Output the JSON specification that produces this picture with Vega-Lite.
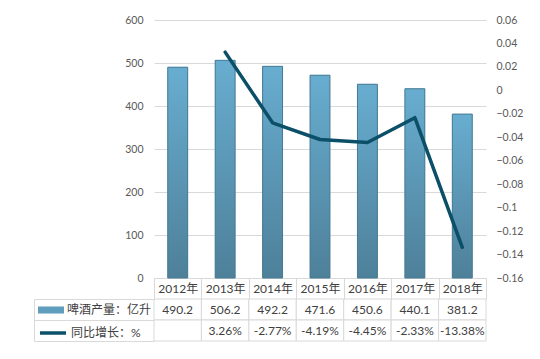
{
  "$schema": "https://vega.github.io/schema/vega-lite/v6.json",
  "background": "white",
  "padding": {"left": 33, "top": 15, "right": 12, "bottom": 10},
  "bounds": "flush",
  "spacing": 21,
  "config": {
    "font": "Lato, Noto Sans CJK SC, sans-serif",
    "view": {"stroke": null},
    "axis": {"labelFont": "Lato, Noto Sans CJK SC, sans-serif"}
  },
  "datasets": {
    "d": [
      {"year": "2012年", "beer": 490.2, "growth": null, "growthLabel": ""},
      {"year": "2013年", "beer": 506.2, "growth": 0.0326, "growthLabel": "3.26%"},
      {"year": "2014年", "beer": 492.2, "growth": -0.0277, "growthLabel": "-2.77%"},
      {"year": "2015年", "beer": 471.6, "growth": -0.0419, "growthLabel": "-4.19%"},
      {"year": "2016年", "beer": 450.6, "growth": -0.0445, "growthLabel": "-4.45%"},
      {"year": "2017年", "beer": 440.1, "growth": -0.0233, "growthLabel": "-2.33%"},
      {"year": "2018年", "beer": 381.2, "growth": -0.1338, "growthLabel": "-13.38%"}
    ]
  },
  "vconcat": [
    {
      "width": 332,
      "height": 258,
      "data": {"name": "d"},
      "encoding": {
        "x": {
          "field": "year", "type": "ordinal", "sort": null,
          "scale": {"paddingInner": 0, "paddingOuter": 0},
          "axis": {"title": null, "labels": false, "ticks": false, "domain": true, "domainColor": "#d9d9d9", "grid": false}
        }
      },
      "layer": [
        {
          "encoding": {
            "y": {
              "field": "beer", "type": "quantitative",
              "scale": {"domain": [0, 600], "nice": false},
              "axis": {"title": null, "orient": "left", "values": [0, 100, 200, 300, 400, 500, 600], "ticks": false, "domain": false, "grid": true, "gridColor": "#d9d9d9", "labelPadding": 11, "labelFontSize": 10.5, "labelColor": "#595959"}
            }
          },
          "layer": [
            {
              "mark": {"type": "bar", "width": {"band": 0.42}},
              "encoding": {
                "fill": {
                  "datum": "啤酒产量：亿升",
                  "scale": {"range": ["#5e9dbb"]},
                  "legend": {"orient": "none", "legendX": -116, "legendY": 277, "title": null, "symbolType": "M-1,-0.27H1V0.27H-1Z", "symbolSize": 676, "symbolStrokeWidth": 0, "labelFontSize": 12, "labelColor": "#404040", "labelOffset": 3, "padding": 0}
                }
              }
            },
            {
              "mark": {
                "type": "bar", "width": {"band": 0.42}, "stroke": "#467b94", "strokeWidth": 1,
                "color": {"gradient": "linear", "x1": 0, "y1": 0, "x2": 0, "y2": 1, "stops": [{"offset": 0, "color": "#68add0"}, {"offset": 1, "color": "#4e8099"}]}
              }
            }
          ]
        },
        {
          "mark": {"type": "line", "strokeWidth": 3.5, "strokeCap": "round", "strokeJoin": "round"},
          "encoding": {
            "y": {
              "field": "growth", "type": "quantitative",
              "scale": {"domain": [-0.16, 0.06], "nice": false},
              "axis": {"title": null, "orient": "right", "values": [-0.16, -0.14, -0.12, -0.1, -0.08, -0.06, -0.04, -0.02, 0, 0.02, 0.04, 0.06], "format": "~g", "ticks": false, "domain": false, "grid": false, "labelPadding": 10, "labelFontSize": 10.5, "labelColor": "#595959"}
            },
            "stroke": {
              "datum": "同比增长：%",
              "scale": {"range": ["#0b5068"]},
              "legend": {"orient": "none", "legendX": -116, "legendY": 298, "title": null, "symbolType": "stroke", "symbolSize": 676, "symbolStrokeWidth": 3.5, "labelFontSize": 12, "labelColor": "#404040", "labelOffset": 3, "padding": 0}
            }
          }
        }
      ],
      "resolve": {"scale": {"y": "independent", "fill": "independent", "stroke": "independent"}}
    },
    {
      "width": 332,
      "height": 42,
      "data": {"name": "d"},
      "encoding": {
        "x": {
          "field": "year", "type": "ordinal", "sort": null,
          "scale": {"paddingInner": 0, "paddingOuter": 0},
          "axis": {"orient": "top", "title": null, "domain": false, "ticks": true, "tickBand": "extent", "tickSize": 21, "tickColor": "#d9d9d9", "labelPadding": -10.5, "labelBaseline": "middle", "labelAngle": 0, "labelFontSize": 12, "labelColor": "#404040", "grid": false}
        },
        "y": {
          "type": "nominal",
          "scale": {"domain": ["啤酒产量：亿升", "同比增长：%"], "paddingInner": 0, "paddingOuter": 0},
          "axis": {"orient": "left", "offset": 120, "title": null, "labels": false, "domain": true, "domainColor": "#d9d9d9", "ticks": true, "tickBand": "extent", "tickSize": -120, "tickColor": "#d9d9d9", "grid": false}
        }
      },
      "layer": [
        {"mark": {"type": "rect", "fill": "white", "stroke": "#d9d9d9", "strokeWidth": 1}, "encoding": {"y": {"datum": "啤酒产量：亿升", "type": "nominal"}}},
        {"mark": {"type": "rect", "fill": "white", "stroke": "#d9d9d9", "strokeWidth": 1}, "encoding": {"y": {"datum": "同比增长：%", "type": "nominal"}}},
        {"mark": {"type": "text", "fontSize": 12, "color": "#404040"}, "encoding": {"y": {"datum": "啤酒产量：亿升", "type": "nominal"}, "text": {"field": "beer", "type": "quantitative", "format": ".1f"}}},
        {"mark": {"type": "text", "fontSize": 12, "color": "#404040"}, "encoding": {"y": {"datum": "同比增长：%", "type": "nominal"}, "text": {"field": "growthLabel", "type": "nominal"}}}
      ]
    }
  ]
}
